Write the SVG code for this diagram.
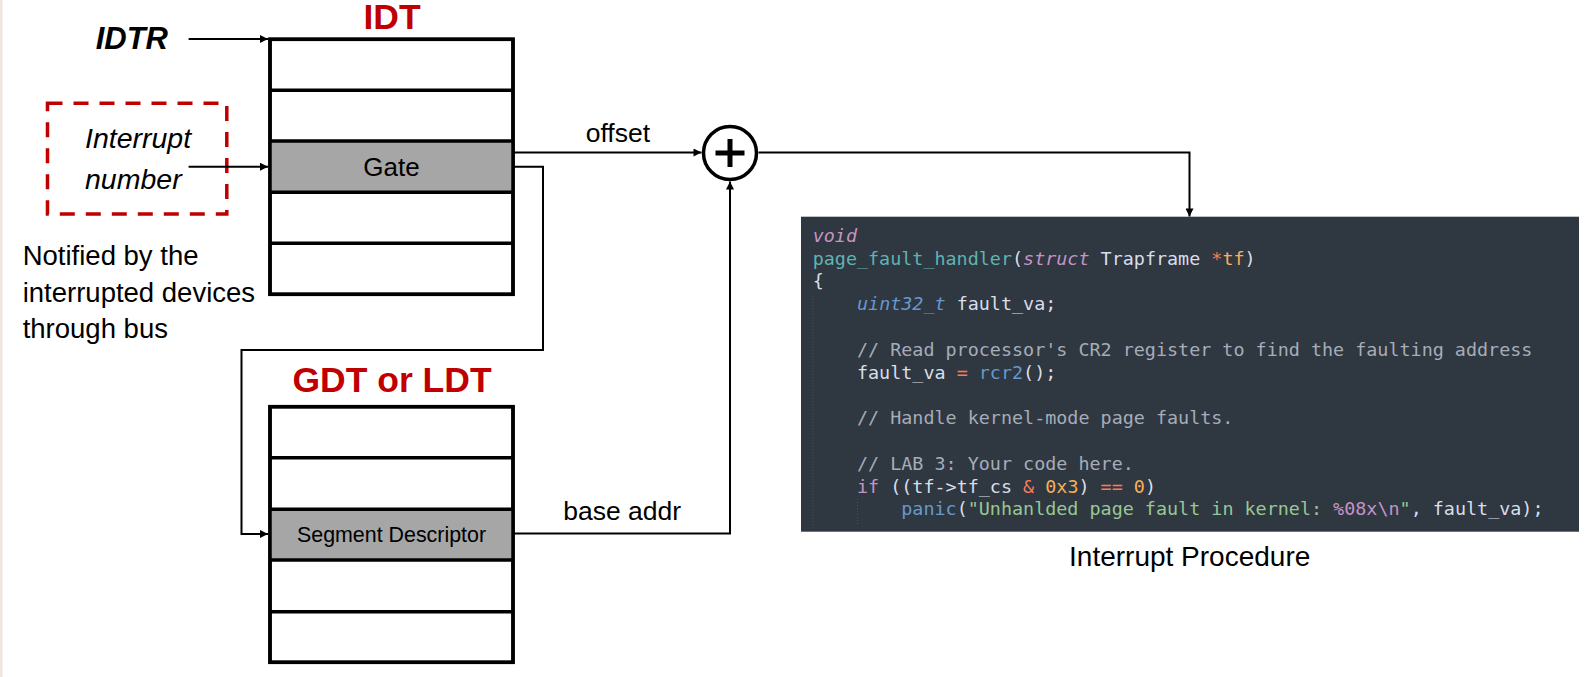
<svg xmlns="http://www.w3.org/2000/svg" width="1592" height="677" viewBox="0 0 1592 677">
<style>
.tbl{fill:#ffffff;stroke:#000;stroke-width:3.5}
.row{stroke:#000;stroke-width:3.5}
.sel{fill:#a6a6a6}
.lbl{font-family:"Liberation Sans",Arial,sans-serif;fill:#000}
.title{font-family:"Liberation Sans",Arial,sans-serif;font-weight:bold;fill:#c00000}
.conn{fill:none;stroke:#000;stroke-width:2}
.code{font-family:"DejaVu Sans Mono","Liberation Mono",monospace;font-size:18.4px;fill:#d8dee9}
.cm{fill:#a6acb9}.pk{fill:#c594c5}.tl{fill:#5fb3b3}.bl{fill:#6699cc}.rd{fill:#f97b58}.or{fill:#f9ae58}.gr{fill:#99c794}
.it{font-style:italic}
</style>
<defs>
<marker id="arr" viewBox="0 0 10 10" refX="10" refY="5" markerWidth="9" markerHeight="8" markerUnits="userSpaceOnUse" orient="auto">
<path d="M0,0 L10,5 L0,10 z" fill="#000"/>
</marker>
</defs>
<rect x="0" y="0" width="1592" height="677" fill="#ffffff"/>
<rect x="0" y="0" width="2.7" height="677" fill="#ede7de"/>

<g id="idtr">
<text class="lbl" x="95.7" y="49.3" font-size="31" font-weight="bold" font-style="italic">IDTR</text>
</g>

<g id="interrupt-number">
<rect x="47.5" y="103.3" width="179.3" height="110.7" fill="none" stroke="#c00000" stroke-width="3.5" stroke-dasharray="15 11"/>
<text class="lbl" x="85" y="148" font-size="28.5" font-style="italic">Interrupt</text>
<text class="lbl" x="85" y="189" font-size="28.5" font-style="italic">number</text>
</g>

<g id="notified-note">
<text class="lbl" x="22.7" y="265" font-size="27.5">Notified by the</text>
<text class="lbl" x="22.7" y="301.7" font-size="27.5">interrupted devices</text>
<text class="lbl" x="22.7" y="338.3" font-size="27.5">through bus</text>
</g>

<g id="idt">
<text class="title" x="392" y="29" font-size="35.5" text-anchor="middle">IDT</text>
<rect class="tbl" x="270" y="39.3" width="243" height="255"/>
<rect class="sel" x="270" y="141" width="243" height="51.2"/>
<line class="row" x1="270" y1="90.3" x2="513" y2="90.3"/>
<line class="row" x1="270" y1="141" x2="513" y2="141"/>
<line class="row" x1="270" y1="192.2" x2="513" y2="192.2"/>
<line class="row" x1="270" y1="243.3" x2="513" y2="243.3"/>
<rect x="270" y="39.3" width="243" height="255" fill="none" stroke="#000" stroke-width="3.5"/>
<text class="lbl" x="391.5" y="176" font-size="26" text-anchor="middle">Gate</text>
</g>

<g id="gdt">
<text class="title" x="392" y="391.7" font-size="35.5" text-anchor="middle">GDT or LDT</text>
<rect class="tbl" x="270" y="406.7" width="243" height="255.6"/>
<rect class="sel" x="270" y="509.3" width="243" height="50.7"/>
<line class="row" x1="270" y1="457.7" x2="513" y2="457.7"/>
<line class="row" x1="270" y1="509.3" x2="513" y2="509.3"/>
<line class="row" x1="270" y1="560" x2="513" y2="560"/>
<line class="row" x1="270" y1="611.7" x2="513" y2="611.7"/>
<rect x="270" y="406.7" width="243" height="255.6" fill="none" stroke="#000" stroke-width="3.5"/>
<text class="lbl" x="391.5" y="541.7" font-size="21.4" text-anchor="middle">Segment Descriptor</text>
</g>

<g id="adder">
<circle cx="730" cy="153" r="26.5" fill="#ffffff" stroke="#000" stroke-width="3.5"/>
<line x1="715.5" y1="153" x2="744.5" y2="153" stroke="#000" stroke-width="5"/>
<line x1="730" y1="139" x2="730" y2="167" stroke="#000" stroke-width="5"/>
</g>

<g id="connectors">
<path class="conn" d="M188.6,39 H268" marker-end="url(#arr)"/>
<path class="conn" d="M188.6,166.7 H268" marker-end="url(#arr)"/>
<path class="conn" d="M513,152.5 H701.5" marker-end="url(#arr)"/>
<path class="conn" d="M513,166.7 H543 V350 H241.5 V534 H268" marker-end="url(#arr)"/>
<path class="conn" d="M513,533.5 H730 V181.5" marker-end="url(#arr)"/>
<path class="conn" d="M758.5,152.5 H1189.5 V216.5" marker-end="url(#arr)"/>
<text class="lbl" x="585.7" y="141.7" font-size="26.5">offset</text>
<text class="lbl" x="563.3" y="520" font-size="26.5">base addr</text>
</g>

<g id="interrupt-procedure">
<rect x="801" y="216.7" width="778" height="315" fill="#2f3741"/>
<line x1="813" y1="296" x2="813" y2="526" stroke="#48505a" stroke-width="1" stroke-dasharray="1 2"/>
<line x1="857.5" y1="499" x2="857.5" y2="524" stroke="#48505a" stroke-width="1" stroke-dasharray="1 2"/>
<text class="code" x="812.7" y="241.7" xml:space="preserve"><tspan class="pk it">void</tspan></text>
<text class="code" x="812.7" y="264.5" xml:space="preserve"><tspan class="tl">page_fault_handler</tspan>(<tspan class="pk it">struct</tspan> Trapframe <tspan class="rd">*</tspan><tspan class="or">tf</tspan>)</text>
<text class="code" x="812.7" y="287.3" xml:space="preserve">{</text>
<text class="code" x="812.7" y="310.1" xml:space="preserve">    <tspan class="bl it">uint32_t</tspan> fault_va;</text>
<text class="code cm" x="812.7" y="355.7" xml:space="preserve">    // Read processor's CR2 register to find the faulting address</text>
<text class="code" x="812.7" y="378.5" xml:space="preserve">    fault_va <tspan class="rd">=</tspan> <tspan class="bl">rcr2</tspan>();</text>
<text class="code cm" x="812.7" y="424.1" xml:space="preserve">    // Handle kernel-mode page faults.</text>
<text class="code cm" x="812.7" y="469.7" xml:space="preserve">    // LAB 3: Your code here.</text>
<text class="code" x="812.7" y="492.5" xml:space="preserve">    <tspan class="pk">if</tspan> ((tf-&gt;tf_cs <tspan class="rd">&amp;</tspan> <tspan class="or">0x3</tspan>) <tspan class="rd">==</tspan> <tspan class="or">0</tspan>)</text>
<text class="code" x="812.7" y="515.3" xml:space="preserve">        <tspan class="bl">panic</tspan>(<tspan class="gr">"Unhanlded page fault in kernel: </tspan><tspan class="pk">%08x\n</tspan><tspan class="gr">"</tspan>, fault_va);</text>
<text class="lbl" x="1189.7" y="565.7" font-size="28" text-anchor="middle">Interrupt Procedure</text>
</g>
</svg>
